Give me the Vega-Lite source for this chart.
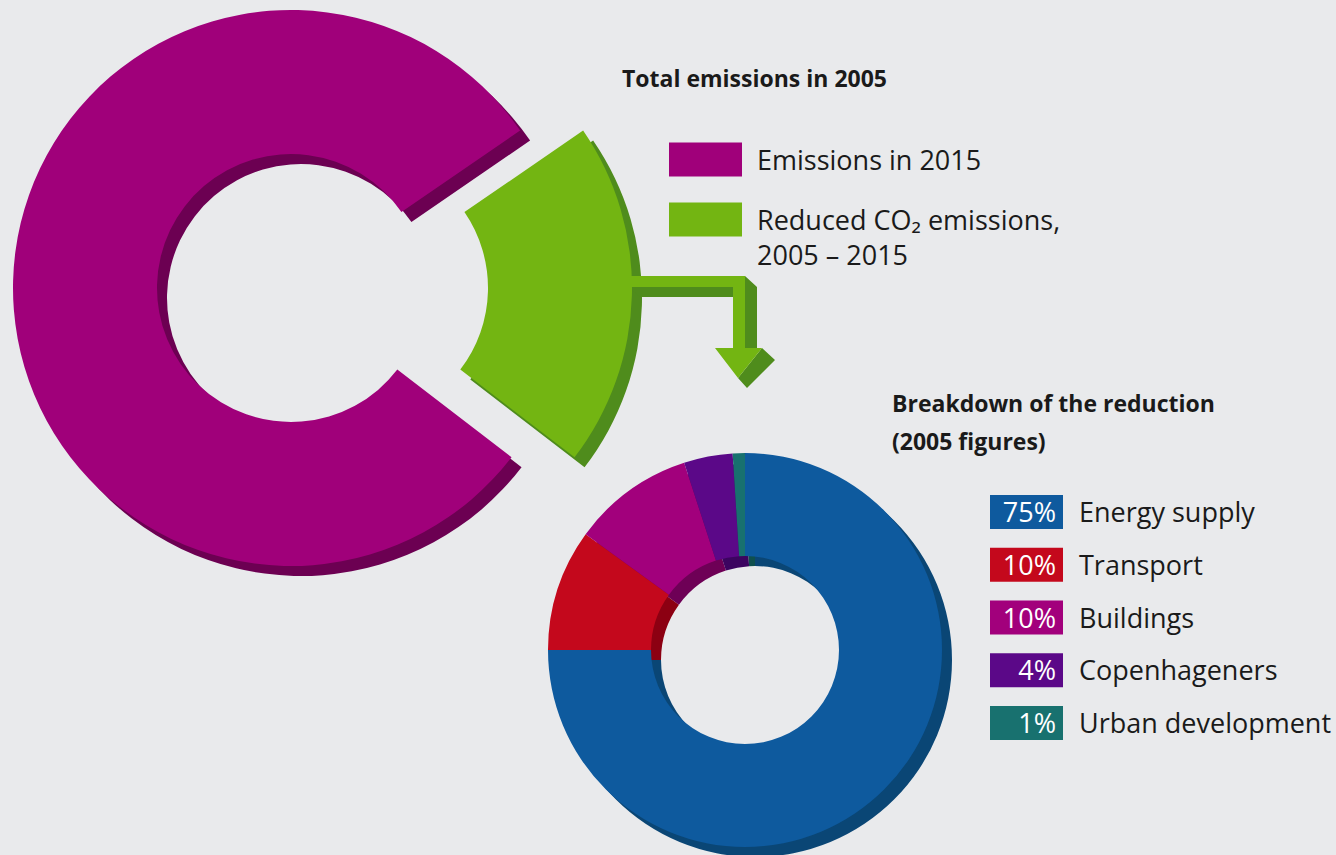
{
  "$schema": "https://vega.github.io/schema/vega-lite/v6.json",
  "width": 1336,
  "height": 855,
  "autosize": {"type": "none"},
  "padding": 0,
  "background": "#e9eaec",
  "config": {
    "view": {"stroke": null},
    "text": {"font": "Open Sans", "color": "#1a1a1a"}
  },
  "datasets": {
    "total": [
      {"category": "Emissions in 2015", "share": 0.8},
      {"category": "Reduced CO₂ emissions,\n2005 – 2015", "share": 0.2}
    ],
    "breakdown": [
      {"category": "Energy supply", "share": 0.75},
      {"category": "Transport", "share": 0.10},
      {"category": "Buildings", "share": 0.10},
      {"category": "Copenhageners", "share": 0.04},
      {"category": "Urban development", "share": 0.01}
    ]
  },
  "layer": [
    {
      "data": {"name": "total"},
      "transform": [
        {"stack": "share", "groupby": [], "sort": [{"field": "category", "order": "ascending"}], "as": ["s0", "s1"]},
        {"filter": {"field": "category", "equal": "Emissions in 2015"}}
      ],
      "mark": {"type": "arc", "x": 301, "y": 298, "innerRadius": 134, "outerRadius": 278, "strokeWidth": 0},
      "encoding": {
        "theta": {"field": "s0", "type": "quantitative", "stack": null, "scale": {"domain": [0, 1], "range": [2.2253, 8.5085]}},
        "theta2": {"field": "s1"},
        "color": {"field": "category", "type": "nominal", "scale": {"domain": ["Emissions in 2015", "Reduced CO₂ emissions,\n2005 – 2015"], "range": ["#6c0052", "#4f8c1c"]}, "legend": null}
      }
    },
    {
      "data": {"name": "total"},
      "transform": [
        {"stack": "share", "groupby": [], "sort": [{"field": "category", "order": "ascending"}], "as": ["s0", "s1"]},
        {"filter": {"field": "category", "equal": "Reduced CO₂ emissions,\n2005 – 2015"}}
      ],
      "mark": {"type": "arc", "x": 364, "y": 298, "innerRadius": 134, "outerRadius": 278, "strokeWidth": 0},
      "encoding": {
        "theta": {"field": "s0", "type": "quantitative", "stack": null, "scale": {"domain": [0, 1], "range": [2.2253, 8.5085]}},
        "theta2": {"field": "s1"},
        "color": {"field": "category", "type": "nominal", "scale": {"domain": ["Emissions in 2015", "Reduced CO₂ emissions,\n2005 – 2015"], "range": ["#6c0052", "#4f8c1c"]}, "legend": null}
      }
    },
    {
      "data": {"name": "total"},
      "transform": [
        {"stack": "share", "groupby": [], "sort": [{"field": "category", "order": "ascending"}], "as": ["s0", "s1"]},
        {"filter": {"field": "category", "equal": "Emissions in 2015"}}
      ],
      "mark": {"type": "arc", "x": 291, "y": 288, "innerRadius": 134, "outerRadius": 278, "strokeWidth": 0},
      "encoding": {
        "theta": {"field": "s0", "type": "quantitative", "stack": null, "scale": {"domain": [0, 1], "range": [2.2253, 8.5085]}},
        "theta2": {"field": "s1"},
        "color": {"field": "category", "type": "nominal", "scale": {"domain": ["Emissions in 2015", "Reduced CO₂ emissions,\n2005 – 2015"], "range": ["#a0007a", "#73b512"]}, "legend": null}
      }
    },
    {
      "data": {"values": [{}]},
      "mark": {"type": "point", "x": 0, "y": 0, "size": 4, "filled": true, "opacity": 1, "strokeWidth": 0, "color": "#4f8c1c",
        "shape": "M628,287H733V297H640Z M745,276L757,287V348H745Z M762,348L775,360L747,388L738,378Z"},
      "encoding": {}
    },
    {
      "data": {"name": "total"},
      "transform": [
        {"stack": "share", "groupby": [], "sort": [{"field": "category", "order": "ascending"}], "as": ["s0", "s1"]},
        {"filter": {"field": "category", "equal": "Reduced CO₂ emissions,\n2005 – 2015"}}
      ],
      "mark": {"type": "arc", "x": 354, "y": 288, "innerRadius": 134, "outerRadius": 278, "strokeWidth": 0},
      "encoding": {
        "theta": {"field": "s0", "type": "quantitative", "stack": null, "scale": {"domain": [0, 1], "range": [2.2253, 8.5085]}},
        "theta2": {"field": "s1"},
        "color": {"field": "category", "type": "nominal", "scale": {"domain": ["Emissions in 2015", "Reduced CO₂ emissions,\n2005 – 2015"], "range": ["#a0007a", "#73b512"]}, "legend": null}
      }
    },
    {
      "data": {"values": [{}]},
      "mark": {"type": "point", "x": 0, "y": 0, "size": 4, "filled": true, "opacity": 1, "strokeWidth": 0, "color": "#73b512",
        "shape": "M628,276H745V348H733V287H628Z M715,348H762L738,378Z"},
      "encoding": {}
    },
    {
      "data": {"name": "breakdown"},
      "transform": [
        {"stack": "share", "groupby": [], "sort": [{"field": "share", "order": "descending"}, {"field": "category", "order": "descending"}], "as": ["s0", "s1"]}
      ],
      "mark": {"type": "arc", "x": 755, "y": 660, "innerRadius": 94, "outerRadius": 197, "strokeWidth": 0},
      "encoding": {
        "theta": {"field": "s0", "type": "quantitative", "stack": null, "scale": {"domain": [0, 1], "range": [0, 6.2832]}},
        "theta2": {"field": "s1"},
        "color": {"field": "category", "type": "nominal", "scale": {"domain": ["Energy supply", "Transport", "Buildings", "Copenhageners", "Urban development"], "range": ["#0a4675", "#8c0012", "#6e0056", "#3c0460", "#0f504e"]}, "legend": null}
      }
    },
    {
      "data": {"name": "breakdown"},
      "transform": [
        {"stack": "share", "groupby": [], "sort": [{"field": "share", "order": "descending"}, {"field": "category", "order": "descending"}], "as": ["s0", "s1"]}
      ],
      "mark": {"type": "arc", "x": 745, "y": 650, "innerRadius": 94, "outerRadius": 197, "strokeWidth": 0},
      "encoding": {
        "theta": {"field": "s0", "type": "quantitative", "stack": null, "scale": {"domain": [0, 1], "range": [0, 6.2832]}},
        "theta2": {"field": "s1"},
        "color": {"field": "category", "type": "nominal", "scale": {"domain": ["Energy supply", "Transport", "Buildings", "Copenhageners", "Urban development"], "range": ["#0e5a9e", "#c4081c", "#a2007c", "#5b0888", "#18716f"]}, "legend": null}
      }
    },
    {
      "data": {"values": [{}]},
      "mark": {"type": "text", "text": "Total emissions in 2005", "x": 622, "y": 87, "align": "left", "baseline": "alphabetic", "fontSize": 23, "fontWeight": "bold"},
      "encoding": {}
    },
    {
      "data": {"name": "total"},
      "mark": {"type": "rect", "x": 669, "x2": 742},
      "encoding": {
        "y": {"field": "category", "type": "nominal", "scale": {"type": "band", "domain": ["Emissions in 2015", "Reduced CO₂ emissions,\n2005 – 2015"], "range": [142.5, 236.5], "paddingInner": 0.4333, "paddingOuter": 0}, "axis": null},
        "color": {"field": "category", "type": "nominal", "scale": {"domain": ["Emissions in 2015", "Reduced CO₂ emissions,\n2005 – 2015"], "range": ["#a0007a", "#73b512"]}, "legend": null}
      }
    },
    {
      "data": {"name": "total"},
      "mark": {"type": "text", "x": 757, "align": "left", "baseline": "alphabetic", "dy": 10, "fontSize": 27, "lineBreak": "\n", "lineHeight": 35},
      "encoding": {
        "y": {"field": "category", "type": "nominal", "scale": {"type": "point", "domain": ["Emissions in 2015", "Reduced CO₂ emissions,\n2005 – 2015"], "range": [159.5, 219.5], "padding": 0}, "axis": null},
        "text": {"field": "category", "type": "nominal"}
      }
    },
    {
      "data": {"values": [{}]},
      "mark": {"type": "text", "text": ["Breakdown of the reduction", "(2005 figures)"], "x": 892, "y": 412, "align": "left", "baseline": "alphabetic", "fontSize": 23, "fontWeight": "bold", "lineHeight": 38},
      "encoding": {}
    },
    {
      "data": {"name": "breakdown"},
      "mark": {"type": "rect", "x": 990, "x2": 1063},
      "encoding": {
        "y": {"field": "category", "type": "nominal", "scale": {"type": "band", "domain": ["Energy supply", "Transport", "Buildings", "Copenhageners", "Urban development"], "range": [495, 740], "paddingInner": 0.3555, "paddingOuter": 0}, "axis": null},
        "color": {"field": "category", "type": "nominal", "scale": {"domain": ["Energy supply", "Transport", "Buildings", "Copenhageners", "Urban development"], "range": ["#0e5a9e", "#c4081c", "#a2007c", "#5b0888", "#18716f"]}, "legend": null}
      }
    },
    {
      "data": {"name": "breakdown"},
      "mark": {"type": "text", "x": 1056, "align": "right", "baseline": "alphabetic", "dy": 10, "fontSize": 27, "color": "#ffffff"},
      "encoding": {
        "y": {"field": "category", "type": "nominal", "scale": {"type": "point", "domain": ["Energy supply", "Transport", "Buildings", "Copenhageners", "Urban development"], "range": [512, 723], "padding": 0}, "axis": null},
        "text": {"field": "share", "type": "quantitative", "format": ".0%"}
      }
    },
    {
      "data": {"name": "breakdown"},
      "mark": {"type": "text", "x": 1079, "align": "left", "baseline": "alphabetic", "dy": 10, "fontSize": 27},
      "encoding": {
        "y": {"field": "category", "type": "nominal", "scale": {"type": "point", "domain": ["Energy supply", "Transport", "Buildings", "Copenhageners", "Urban development"], "range": [512, 723], "padding": 0}, "axis": null},
        "text": {"field": "category", "type": "nominal"}
      }
    }
  ],
  "resolve": {"scale": {"theta": "independent", "color": "independent", "y": "independent"}}
}
